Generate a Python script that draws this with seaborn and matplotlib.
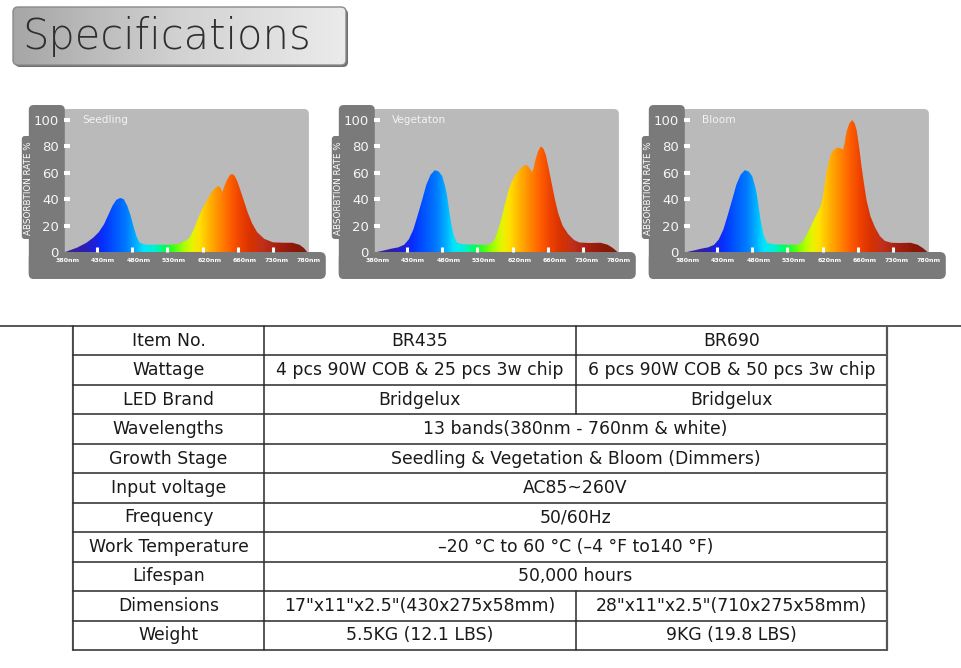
import numpy as np
import matplotlib
matplotlib.use("Agg")
import matplotlib.pyplot as plt
import seaborn as sns
from matplotlib.patches import FancyBboxPatch
from matplotlib.colors import LinearSegmentedColormap

# ---------------- data ----------------
band_labels = ["380nm", "430nm", "480nm", "530nm", "620nm", "660nm", "730nm", "780nm"]
y_ticks = [0, 20, 40, 60, 80, 100]
stage_names = ["Seedling", "Vegetaton", "Bloom"]

# curve samples: position along the band axis (0 = 380nm tick ... 7 = 780nm tick), absorption %
seedling_pos = [0.10, 0.25, 0.45, 0.70, 0.90, 1.05, 1.20, 1.32, 1.44, 1.55, 1.66, 1.76, 1.86, 1.95,
                2.03, 2.12, 2.20, 2.30, 2.45, 2.80, 3.10, 3.30, 3.48, 3.62, 3.75, 3.88, 4.00, 4.12,
                4.25, 4.36, 4.44, 4.50, 4.56, 4.62, 4.70, 4.78, 4.84, 4.90, 4.98, 5.07, 5.17, 5.28,
                5.40, 5.55, 5.75, 6.00, 6.30, 6.55, 6.75, 6.88, 6.97]
seedling_val = [0, 1.5, 3.5, 7, 11, 15, 21, 28, 35, 39.5, 41, 40, 35, 28,
                20, 12, 7.5, 6, 5.5, 5.5, 5.5, 6, 8, 10.5, 17, 26, 33, 39,
                45, 48.5, 50, 49, 45.5, 50, 55, 58.5, 59, 58, 54, 47, 39, 30,
                22, 15, 10, 7.3, 7, 7, 5.5, 3, 0]

veg_pos = [0.14, 0.35, 0.55, 0.75, 0.92, 1.05, 1.18, 1.30, 1.42, 1.55, 1.67, 1.79, 1.90, 2.00,
           2.08, 2.13, 2.18, 2.24, 2.32, 2.42, 2.60, 3.00, 3.30, 3.42, 3.50, 3.60, 3.69, 3.78,
           3.88, 3.97, 4.07, 4.20, 4.35, 4.42, 4.48, 4.55, 4.59, 4.65, 4.72, 4.80, 4.87, 4.94,
           5.02, 5.11, 5.20, 5.30, 5.42, 5.58, 5.75, 5.90, 6.20, 6.50, 6.70, 6.85, 6.98]
veg_val = [0, 1.2, 2.5, 3.5, 5.5, 9.5, 17, 27.5, 38.5, 51, 58.5, 62, 61, 57.5,
           50, 44, 35, 24, 13, 7, 5.8, 5.5, 5.5, 7, 10, 18, 26, 36,
           46.5, 53, 58, 62.5, 66, 65.5, 63.5, 60.5, 63, 70, 76, 80, 78.5, 74,
           64, 52, 40, 29, 20, 13.5, 9, 7.2, 6.8, 7, 5.5, 3, 0]

bloom_pos = [0.14, 0.35, 0.55, 0.75, 0.92, 1.05, 1.18, 1.30, 1.42, 1.55, 1.67, 1.79, 1.90, 2.00,
             2.08, 2.13, 2.18, 2.24, 2.32, 2.42, 2.60, 3.00, 3.30, 3.42, 3.50, 3.60, 3.69, 3.80,
             3.93, 3.98, 4.03, 4.09, 4.16, 4.23, 4.30, 4.38, 4.45, 4.52, 4.58, 4.62, 4.68, 4.76,
             4.84, 4.91, 4.97, 5.04, 5.11, 5.18, 5.25, 5.36, 5.49, 5.63, 5.77, 5.95, 6.20, 6.50,
             6.70, 6.85, 6.98]
bloom_val = [0, 1.2, 2.5, 3.5, 5.5, 9.5, 17, 27.5, 38.5, 51, 58.5, 62, 61, 57.5,
             50, 44, 35, 24, 13, 7, 5.8, 5.5, 5.5, 7.5, 11, 16, 21, 27,
             34, 38, 46, 57, 67, 73.5, 77, 78.5, 79, 78.5, 77.5, 82, 91, 97.5,
             100, 97.5, 92, 79, 64, 51, 39, 27, 18.6, 12, 8.4, 7, 6.8, 7,
             5.5, 3, 0]

table_labels = ["Item No.", "Wattage", "LED Brand", "Wavelengths", "Growth Stage", "Input voltage",
                "Frequency", "Work Temperature", "Lifespan", "Dimensions", "Weight"]
col_br435 = ["BR435", "4 pcs 90W COB & 25 pcs 3w chip", "Bridgelux",
             "13 bands(380nm - 760nm & white)", "Seedling & Vegetation & Bloom (Dimmers)",
             "AC85~260V", "50/60Hz", "\u201320 \u00b0C to 60 \u00b0C (\u20134 \u00b0F to140 \u00b0F)",
             "50,000 hours", "17\"x11\"x2.5\"(430x275x58mm)", "5.5KG (12.1 LBS)"]
col_br690 = ["BR690", "6 pcs 90W COB & 50 pcs 3w chip", "Bridgelux",
             None, None, None, None, None, None,
             "28\"x11\"x2.5\"(710x275x58mm)", "9KG (19.8 LBS)"]

# ---------------- style / layout ----------------
sns.set_theme(style="white")
plt.rcParams['font.family'] = ['DejaVu Sans']

W, H = 961, 668
DARK = '#7b7a7b'
LIGHT = '#bababa'
spec_colors = [(0.0, '#3a2a90'), (0.6, '#2e1fb0'), (0.95, '#1a22e6'), (1.15, '#0630ff'),
               (1.5, '#0058ff'), (1.8, '#0078ff'), (2.05, '#00a8ff'), (2.3, '#00e4ff'),
               (2.6, '#00f0d8'), (2.95, '#00ff4a'), (3.2, '#50ff10'), (3.45, '#a8ff00'),
               (3.7, '#e8f400'), (3.9, '#ffe000'), (4.15, '#ffb800'), (4.45, '#ff8c00'),
               (4.75, '#ff6200'), (5.05, '#ef4200'), (5.35, '#d83200'), (5.7, '#c0301c'),
               (6.1, '#a82010'), (6.6, '#8c1808'), (7.0, '#7a1e14')]
cmap = LinearSegmentedColormap.from_list('spec', [(p / 7.0, c) for p, c in spec_colors])

fig = plt.figure(figsize=(W / 100, H / 100), dpi=100)
fig.patch.set_facecolor('white')
bg = fig.add_axes([0, 0, 1, 1])
bg.set_xlim(0, W)
bg.set_ylim(H, 0)
bg.axis('off')


def frac_rect(x0, y0, x1, y1):
    return [x0 / W, 1 - y1 / H, (x1 - x0) / W, (y1 - y0) / H]


def rbox(x0, y0, x1, y1, r, **kw):
    p = FancyBboxPatch((x0, y0), x1 - x0, y1 - y0,
                       boxstyle=f"round,pad=0,rounding_size={r}", **kw)
    bg.add_patch(p)
    return p


# ---- title ----
rbox(15, 9, 348, 67, 5, facecolor='#6e6e6e', edgecolor='none', zorder=1)
tb = rbox(13, 7, 346, 65, 5, facecolor='none', edgecolor='#8a8a8a', lw=1.0, zorder=3)
grad = bg.imshow(np.linspace(0, 1, 300)[None, :], extent=(13, 346, 65, 7), aspect='auto',
                 cmap=LinearSegmentedColormap.from_list('tg', ['#a6a6a6', '#d2d2d2', '#ebebeb']),
                 interpolation='bilinear', zorder=2)
grad.set_clip_path(tb)
bg.text(22, 49, "Specifications", fontsize=30, fontweight='light', color='#2e2e2e',
        ha='left', va='baseline', zorder=4)

# ---- spectrum charts ----
PX = 35.2
YPX = 1.32
PLOT_TOP, BASE, BOTTOM, STRIP_TOP = 109, 252, 279, 105
origins = [61.8, 371.8, 681.8]
curves = [(seedling_pos, seedling_val), (veg_pos, veg_val), (bloom_pos, bloom_val)]
label_pos = [0.18, 1.17, 2.18, 3.17, 4.19, 5.19, 6.10, 7.01]
x_lo, x_hi = 0.05, 7.02

for ox, name, (pos, val) in zip(origins, stage_names, curves):
    px0, px1 = ox + x_lo * PX, ox + x_hi * PX
    # light plot area and dark frame
    rbox(px0 - 2, PLOT_TOP, px1, BASE + 4, 5, facecolor=LIGHT, edgecolor='none', zorder=1)
    rbox(ox - 33, STRIP_TOP, ox + 3, BOTTOM, 5, facecolor=DARK, edgecolor='none', zorder=2)
    rbox(ox - 33, BASE, ox + 264, BOTTOM, 6, facecolor=DARK, edgecolor='none', zorder=2)
    rbox(ox - 40, 136, ox - 27, 239, 3, facecolor=DARK, edgecolor='none', zorder=2)
    bg.text(ox - 33.3, 188, "ABSORBTION RATE %", rotation=90, fontsize=6.3, color='white',
            ha='center', va='center', zorder=3)
    bg.text(ox + 20, 120, name, fontsize=7.6, color='#f2f2f2', ha='left', va='center', zorder=3)

    ax = fig.add_axes(frac_rect(px0, PLOT_TOP, px1, BASE))
    ax.set_facecolor('none')
    for s in ax.spines.values():
        s.set_visible(False)
    ax.set_axisbelow(False)

    sns.lineplot(x=pos, y=val, ax=ax, linewidth=0, sort=False, estimator=None)
    fill = ax.fill_between(pos, val, 0, facecolor='none', edgecolor='none', lw=0)
    clip = fill.get_paths()[0]
    im = ax.imshow(np.linspace(0, 7, 800)[None, :], extent=(0, 7, 0, 110), origin='lower',
                   aspect='auto', cmap=cmap, vmin=0, vmax=7, interpolation='bilinear', zorder=1)
    im.set_clip_path(clip, transform=ax.transData)

    ax.set_xlim(x_lo, x_hi)
    ax.set_ylim(0, (BASE - PLOT_TOP) / YPX)

    ax.set_yticks(y_ticks)
    ax.set_yticklabels([str(t) for t in y_ticks])
    ax.tick_params(axis='y', which='major', direction='in', left=True, length=4.3, width=2.9,
                   color='white', labelcolor='#f6f6f6', labelsize=9.5, pad=3.3)
    ax.set_xticks(label_pos)
    ax.set_xticklabels(band_labels, fontweight='bold')
    ax.tick_params(axis='x', which='major', bottom=True, length=0, labelcolor='white',
                   labelsize=4.5, pad=4.0)
    ax.set_xticks(range(1, 7), minor=True)
    ax.tick_params(axis='x', which='minor', direction='in', bottom=True, length=3.6, width=2.2,
                   color='white')
    ax.yaxis.get_major_ticks()[0].tick1line.set_visible(False)
    ax.set_xlabel('')
    ax.set_ylabel('')

# ---- table ----
T_TOP, T_BOT = 326, 650
cols = [73, 264, 576, 887]
n = len(table_labels)
rh = (T_BOT - T_TOP) / n
line_kw = dict(color='#2a2a2a', lw=1.1, zorder=3)

bg.plot([0, W], [T_TOP, T_TOP], color='#3a3a3a', lw=1.2, zorder=3)
bg.plot([cols[0] - 1.3, cols[0] - 1.3], [T_TOP, T_BOT], color='#b5b5b5', lw=1.0, zorder=2)
for i in range(1, n + 1):
    y = T_TOP + i * rh
    bg.plot([cols[0], cols[3]], [y, y], **line_kw)
for x in (cols[0], cols[1]):
    bg.plot([x, x], [T_TOP, T_BOT], **line_kw)
bg.plot([cols[3], cols[3]], [T_TOP, T_BOT], color='#555555', lw=1.6, zorder=3)

for i, (lab, a, b) in enumerate(zip(table_labels, col_br435, col_br690)):
    yc = T_TOP + (i + 0.5) * rh
    bg.text((cols[0] + cols[1]) / 2, yc, lab, fontsize=12.4, color='#1a1a1a',
            ha='center', va='center', zorder=4)
    if b is None:
        bg.text((cols[1] + cols[3]) / 2, yc, a, fontsize=12.4, color='#1a1a1a',
                ha='center', va='center', zorder=4)
    else:
        bg.plot([cols[2], cols[2]], [T_TOP + i * rh, T_TOP + (i + 1) * rh], **line_kw)
        bg.text((cols[1] + cols[2]) / 2, yc, a, fontsize=12.4, color='#1a1a1a',
                ha='center', va='center', zorder=4)
        bg.text((cols[2] + cols[3]) / 2, yc, b, fontsize=12.4, color='#1a1a1a',
                ha='center', va='center', zorder=4)

bg.set_xlim(0, W)
bg.set_ylim(H, 0)
fig.savefig("out.png", dpi=100, facecolor='white')
